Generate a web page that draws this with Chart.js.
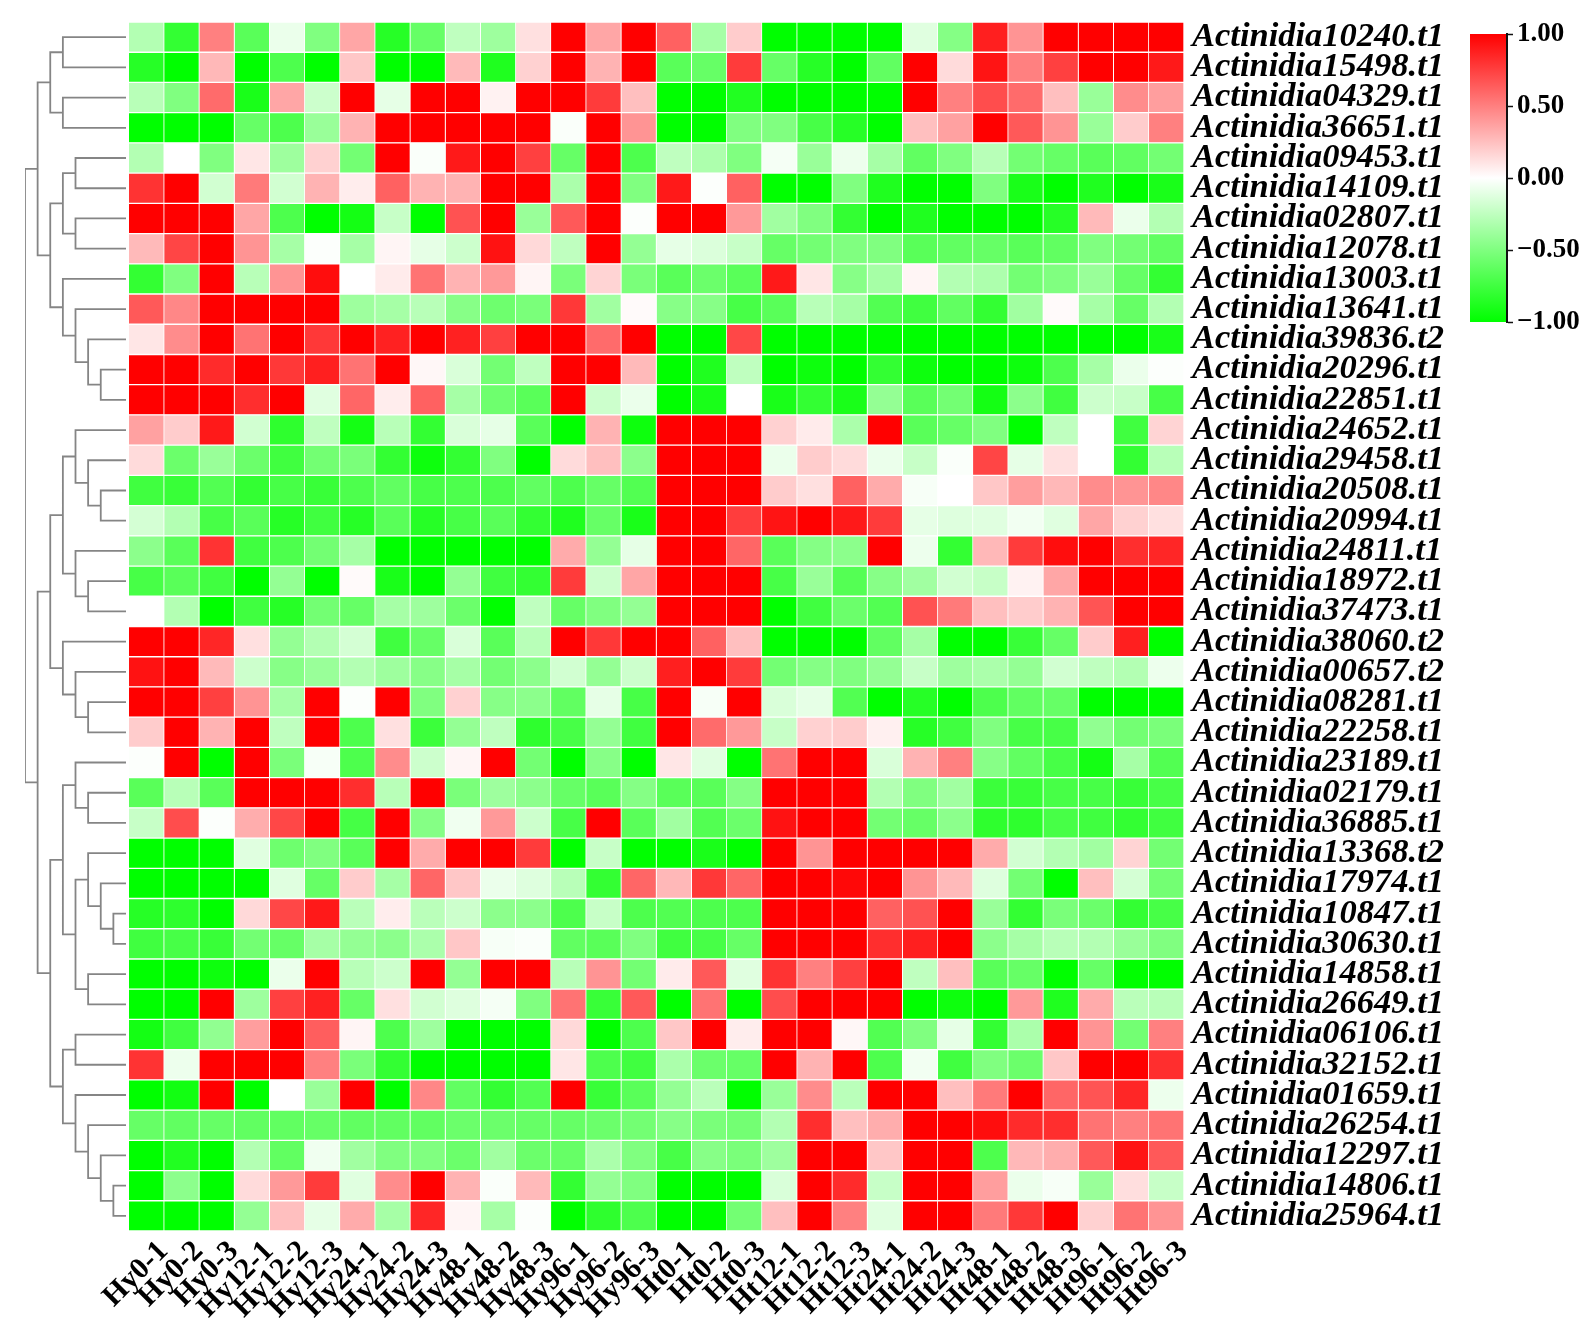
<!DOCTYPE html>
<html>
<head>
<meta charset="utf-8">
<script src="https://cdn.jsdelivr.net/npm/chart.js@4/dist/chart.umd.min.js"></script>
<style>
html,body{margin:0;padding:0;background:#fff;width:1591px;height:1335px;overflow:hidden}
canvas{position:absolute}
</style>
</head>
<body>
<canvas id="tree" style="left:0;top:0"></canvas>
<canvas id="heat" style="left:0;top:0"></canvas>
<canvas id="bar" style="left:1440px;top:0"></canvas>
<script>
const samples = ["Hy0-1","Hy0-2","Hy0-3","Hy12-1","Hy12-2","Hy12-3","Hy24-1","Hy24-2","Hy24-3","Hy48-1","Hy48-2","Hy48-3","Hy96-1","Hy96-2","Hy96-3","Ht0-1","Ht0-2","Ht0-3","Ht12-1","Ht12-2","Ht12-3","Ht24-1","Ht24-2","Ht24-3","Ht48-1","Ht48-2","Ht48-3","Ht96-1","Ht96-2","Ht96-3"];
const genes = ["Actinidia10240.t1","Actinidia15498.t1","Actinidia04329.t1","Actinidia36651.t1","Actinidia09453.t1","Actinidia14109.t1","Actinidia02807.t1","Actinidia12078.t1","Actinidia13003.t1","Actinidia13641.t1","Actinidia39836.t2","Actinidia20296.t1","Actinidia22851.t1","Actinidia24652.t1","Actinidia29458.t1","Actinidia20508.t1","Actinidia20994.t1","Actinidia24811.t1","Actinidia18972.t1","Actinidia37473.t1","Actinidia38060.t2","Actinidia00657.t2","Actinidia08281.t1","Actinidia22258.t1","Actinidia23189.t1","Actinidia02179.t1","Actinidia36885.t1","Actinidia13368.t2","Actinidia17974.t1","Actinidia10847.t1","Actinidia30630.t1","Actinidia14858.t1","Actinidia26649.t1","Actinidia06106.t1","Actinidia32152.t1","Actinidia01659.t1","Actinidia26254.t1","Actinidia12297.t1","Actinidia14806.t1","Actinidia25964.t1"];
const values = [
[-.3,-.8,.5,-.65,-.08,-.5,.35,-.85,-.6,-.25,-.38,.12,1,.35,1,.62,-.35,.2,-1,-1,-1,-1,-.12,-.48,.88,.42,1,1,1,1],
[-.85,-1,.28,-1,-.7,-1,.22,-1,-1,.27,-.88,.18,1,.3,1,-.65,-.6,.77,-.6,-.85,-1,-.62,1,.14,.92,.5,.75,1,1,.9],
[-.28,-.5,.58,-.9,.35,-.2,1,-.1,1,1,.05,1,1,.77,.25,-1,-1,-.87,-1,-1,-1,-1,1,.5,.7,.58,.25,-.4,.45,.38],
[-1,-1,-1,-.6,-.7,-.4,.3,1,1,1,1,1,-.02,1,.42,-1,-1,-.5,-.5,-.72,-.85,-1,.25,.37,1,.65,.42,-.4,.2,.5],
[-.3,0,-.5,.1,-.38,.18,-.55,1,-.02,.9,1,.75,-.6,1,-.7,-.25,-.32,-.5,-.04,-.4,-.07,-.35,-.62,-.5,-.28,-.55,-.6,-.65,-.62,-.55],
[.8,1,-.18,.52,-.18,.3,.07,.62,.3,.3,1,1,-.33,1,-.5,.9,-.01,.62,-1,-1,-.5,-.88,-1,-1,-.5,-.9,-1,-.88,-1,-.9],
[1,1,1,.35,-.7,-1,-.92,-.22,-1,.68,1,-.4,.65,1,-.01,1,1,.4,-.37,-.5,-.8,-1,-.88,-1,-1,-1,-.85,.27,-.08,-.3],
[.27,.73,1,.42,-.35,-.01,-.35,.04,-.1,-.2,.93,.15,-.25,1,-.42,-.1,-.14,-.22,-.6,-.55,-.5,-.5,-.65,-.62,-.6,-.65,-.62,-.5,-.55,-.62],
[-.8,-.5,1,-.28,.42,.95,0,.08,.55,.3,.4,.04,-.52,.17,-.52,-.65,-.58,-.65,.9,.1,-.47,-.35,.04,-.3,-.32,-.55,-.5,-.4,-.6,-.8],
[.65,.47,1,1,1,1,-.38,-.35,-.28,-.47,-.57,-.52,.78,-.37,.02,-.47,-.47,-.72,-.65,-.28,-.35,-.68,-.75,-.62,-.8,-.37,.02,-.35,-.6,-.3],
[.1,.45,1,.55,1,.78,1,.87,1,.87,.75,1,1,.58,1,-1,-1,.72,-1,-1,-1,-1,-1,-1,-1,-1,-1,-1,-1,-.9],
[1,1,.83,1,.78,.88,.55,1,.03,-.15,-.55,-.25,1,1,.27,-1,-.88,-.25,-1,-.95,-1,-.8,-.95,-1,-1,-.95,-.7,-.35,-.08,-.01],
[1,1,1,.82,1,-.12,.6,.07,.62,-.35,-.57,-.65,1,-.2,-.08,-1,-.9,0,-.9,-.8,-.9,-.42,-.65,-.55,-.92,-.45,-.75,-.2,-.22,-.72],
[.37,.2,.9,-.18,-.82,-.25,-.92,-.28,-.8,-.15,-.1,-.65,-1,.3,-.95,1,1,1,.18,.08,-.33,1,-.65,-.6,-.5,-1,-.25,0,-.75,.17],
[.14,-.58,-.4,-.58,-.75,-.55,-.52,-.8,-.95,-.8,-.5,-1,.14,.25,-.45,1,1,1,-.08,.2,.14,-.08,-.22,-.02,.73,-.1,.12,0,-.8,-.28],
[-.75,-.78,-.68,-.8,-.72,-.78,-.7,-.62,-.72,-.7,-.7,-.62,-.7,-.6,-.68,1,1,1,.2,.12,.62,.33,-.03,0,.22,.38,.28,.45,.42,.47],
[-.17,-.3,-.72,-.65,-.85,-.75,-.85,-.65,-.85,-.72,-.65,-.8,-.88,-.6,-.9,1,1,.76,.92,1,.9,.77,-.1,-.13,-.12,-.05,-.12,.35,.18,.12],
[-.45,-.65,.8,-.75,-.7,-.55,-.35,-1,-1,-1,-1,-1,.33,-.42,-.1,1,1,.6,-.65,-.48,-.45,1,-.07,-.8,.28,.77,.95,1,.82,.85],
[-.72,-.65,-.75,-1,-.42,-1,.02,-.9,-1,-.42,-.75,-.8,.77,-.2,.35,1,1,1,-.72,-.4,-.67,-.47,-.37,-.18,-.22,.05,.35,1,1,1],
[0,-.3,-1,-.75,-.85,-.55,-.6,-.35,-.38,-.58,-1,-.25,-.6,-.5,-.42,1,1,1,-1,-.75,-.58,-.68,.68,.52,.25,.2,.3,.67,1,1],
[1,1,.85,.12,-.42,-.3,-.17,-.75,-.6,-.15,-.65,-.28,1,.78,1,1,.62,.25,-1,-1,-1,-.62,-.35,-1,-1,-.78,-.6,.2,.88,-1],
[.93,1,.27,-.2,-.47,-.4,-.3,-.38,-.47,-.35,-.55,-.45,-.18,-.42,-.2,.88,1,.77,-.55,-.48,-.5,-.42,-.22,-.38,-.33,-.42,-.18,-.25,-.3,-.07],
[1,1,.75,.42,-.35,1,-.01,1,-.5,.18,-.47,-.45,-.62,-.1,-.72,1,-.03,1,-.15,-.1,-.68,-1,-.85,-1,-.7,-.62,-.6,-1,-1,-1],
[.2,1,.3,1,-.25,1,-.7,.12,-.77,-.42,-.25,-.82,-.72,-.42,-.75,1,.58,.4,-.22,.18,.2,.06,-.85,-.75,-.5,-.72,-.72,-.43,-.55,-.52],
[-.01,1,-1,1,-.52,-.03,-.7,.45,-.2,.04,1,-.55,-1,-.47,-1,.1,-.12,-1,.55,1,1,-.15,.3,.5,-.47,-.62,-.72,-.92,-.35,-.68],
[-.65,-.28,-.65,1,1,1,.82,-.28,1,-.52,-.38,-.45,-.6,-.65,-.48,-.65,-.65,-.48,1,1,1,-.3,-.5,-.37,-.77,-.78,-.72,-.72,-.78,-.72],
[-.22,.7,-.01,.32,.72,1,-.73,1,-.48,-.06,.4,-.2,-.72,1,-.65,-.37,-.68,-.58,.93,1,1,-.55,-.6,-.45,-.82,-.82,-.72,-.75,-.8,-.75],
[-1,-1,-1,-.12,-.57,-.5,-.65,1,.33,1,1,.77,-1,-.22,-1,-1,-.9,-1,1,.42,1,1,1,1,.33,-.18,-.3,-.37,.17,-.55],
[-1,-1,-1,-1,-.12,-.6,.2,-.35,.6,.22,-.08,-.13,-.28,-.8,.6,.28,.78,.6,1,1,.97,1,.42,.27,-.13,-.55,-1,.25,-.17,-.55],
[-.85,-.82,-1,.15,.72,.9,-.27,.07,-.27,-.2,-.45,-.45,-.7,-.22,-.7,-.68,-.7,-.7,1,1,1,.62,.68,1,-.4,-.8,-.52,-.58,-.8,-.72],
[-.75,-.72,-.78,-.55,-.6,-.35,-.42,-.45,-.33,.22,-.03,-.02,-.62,-.65,-.5,-.75,-.72,-.6,1,1,1,.82,.88,1,-.45,-.35,-.28,-.3,-.4,-.5],
[-1,-1,-.95,-1,-.08,1,-.28,-.2,1,-.42,1,1,-.28,.42,-.55,.08,.65,-.12,.8,.5,.75,1,-.25,.25,-.65,-.6,-1,-.6,-1,-1],
[-1,-1,1,-.38,.75,.87,-.6,.12,-.18,-.13,-.04,-.5,.55,-.78,.65,-1,.55,-1,.7,1,1,1,-1,-.95,-1,.4,-.88,.33,-.27,-.28],
[-.92,-.75,-.43,.38,1,.63,.04,-.7,-.38,-1,-1,-1,.15,-1,-.7,.22,1,.07,1,1,.03,-.68,-.5,-.1,-.8,-.33,1,.42,-.55,.5],
[.8,-.07,1,1,1,.5,-.52,-.8,-1,-1,-1,-1,.1,-.7,-.75,-.33,-.58,-.6,1,.3,1,-.7,-.05,-.75,-.5,-.58,.22,1,1,.82],
[-1,-.93,1,-1,0,-.4,1,-1,.47,-.62,-.8,-.68,1,-.78,-.65,-.42,-.27,-1,-.4,.45,-.27,1,1,.25,.52,1,.6,.67,.85,-.07],
[-.6,-.62,-.6,-.62,-.62,-.6,-.62,-.62,-.62,-.58,-.58,-.6,-.6,-.58,-.55,-.47,-.52,-.55,-.3,.82,.25,.32,1,1,.95,.83,.82,.55,.5,.55],
[-1,-.87,-1,-.3,-.62,-.06,-.37,-.5,-.5,-.58,-.37,-.58,-.6,-.33,-.5,-.72,-.47,-.52,-.38,1,1,.22,1,1,-.7,.28,.32,.65,.92,.65],
[-1,-.45,-1,.14,.4,.77,-.12,.45,1,.3,-.02,.27,-.8,-.42,-.5,-1,-1,-1,-.15,1,.83,-.22,1,1,.38,-.08,-.03,-.4,.13,-.22],
[-1,-1,-1,-.42,.25,-.1,.33,-.35,.85,.04,-.35,-.01,-1,-.82,-.7,-1,-1,-.55,.25,1,.5,-.12,1,1,.52,.78,1,.18,.55,.42]
];
// row clustering: nested pairs of 1-based row numbers
const rowTree = [
  [[[1,2],[3,4]],
   [[[5,6],[7,8]],[9,[10,[11,[12,13]]]]]],
  [[[[14,[15,[16,17]]],[18,[19,20]]],[21,[22,[23,24]]]],
   [[[25,[26,27]],[[28,[29,[30,31]]],[32,33]]],
    [[34,35],[36,[37,[38,[39,40]]]]]]]
];
const legendTicks = [-1,-0.5,0,0.5,1];
const legendRange = [[-1,1]];

const heatColor = v => {
  const k = Math.round(255*(1-Math.abs(v)));
  return v >= 0 ? `rgb(255,${k},${k})` : `rgb(${k},255,${k})`;
};
const SERIF = '"Liberation Serif","Times New Roman",serif';
const noOverhang = s => {s.paddingTop=0;s.paddingBottom=0;s.paddingLeft=0;s.paddingRight=0;};

function size(id,w,h){const c=document.getElementById(id);c.width=w;c.height=h;c.style.width=w+'px';c.style.height=h+'px';return c;}

/* heatmap: one stacked horizontal-bar series per sample, each cell one unit wide */
new Chart(size('heat',1591,1335),{
  type:'bar',
  data:{
    labels:genes,
    datasets:samples.map((s,c)=>({
      label:s,
      data:genes.map(()=>1),
      backgroundColor:ctx=>heatColor(values[ctx.dataIndex][c]),
      borderColor:'#fff',
      borderWidth:1,
      barPercentage:1,
      categoryPercentage:1
    }))
  },
  options:{
    indexAxis:'y',responsive:false,animation:false,
    layout:{padding:{left:129,top:22,right:0,bottom:0}},
    plugins:{legend:{display:false},tooltip:{enabled:false}},
    scales:{
      x:{type:'linear',stacked:true,min:0,max:samples.length,display:false},
      x2:{type:'category',axis:'x',position:'bottom',labels:samples,offset:true,
        grid:{display:false,drawTicks:false},border:{display:false},
        afterFit(s){s.height=104;noOverhang(s);},
        ticks:{autoSkip:false,minRotation:45,maxRotation:45,labelOffset:17,padding:3,color:'#000',
          font:{family:SERIF,size:30,weight:'bold'}}},
      y:{type:'category',stacked:true,position:'right',
        grid:{display:false,drawTicks:false},border:{display:false},
        afterFit(s){s.width=407;noOverhang(s);},
        ticks:{autoSkip:false,align:'center',crossAlign:'near',padding:8,color:'#000',
          font:{family:SERIF,size:34.5,weight:'bold',style:'italic'}}}
    }
  }
});

/* dendrogram: brackets computed from the tree, placed by the chart's scales */
const dendro = [];
function walk(node,depth){
  if(typeof node==='number') return {x:8,y:node-0.5};
  const a=walk(node[0],depth+1), b=walk(node[1],depth+1);
  dendro.push({x:a.x,y:a.y},{x:depth,y:a.y},{x:depth,y:b.y},{x:b.x,y:b.y},{x:NaN,y:NaN});
  return {x:depth,y:(a.y+b.y)/2};
}
walk(rowTree,0);
new Chart(size('tree',129,1335),{
  type:'scatter',
  data:{datasets:[{data:dendro,showLine:true,spanGaps:false,pointRadius:0,borderColor:'#858585',borderWidth:1.8,borderCapStyle:'square'}]},
  options:{
    responsive:false,animation:false,
    layout:{padding:{left:25,top:22,right:3,bottom:104}},
    plugins:{legend:{display:false},tooltip:{enabled:false}},
    scales:{
      x:{type:'linear',min:0,max:8,display:false},
      y:{type:'linear',min:0,max:genes.length,reverse:true,display:false}
    }
  }
});

/* colour key */
new Chart(size('bar',151,360),{
  type:'bar',
  data:{labels:['key'],datasets:[{
    data:legendRange,
    barPercentage:1,categoryPercentage:1,
    backgroundColor(ctx){
      const a=ctx.chart.chartArea; if(!a) return '#fff';
      const sc=ctx.chart.scales.y;
      const g=ctx.chart.ctx.createLinearGradient(0,sc.getPixelForValue(1),0,sc.getPixelForValue(-1));
      g.addColorStop(0,heatColor(1));g.addColorStop(0.5,heatColor(0));g.addColorStop(1,heatColor(-1));
      return g;
    }
  }]},
  options:{
    responsive:false,animation:false,
    layout:{padding:{left:30,top:34,right:0,bottom:38}},
    plugins:{legend:{display:false},tooltip:{enabled:false}},
    scales:{
      x:{display:false},
      y:{position:'right',min:-1,max:1,
        afterBuildTicks(s){s.ticks=legendTicks.map(v=>({value:v}));},
        afterFit(s){s.width=84;noOverhang(s);},
        grid:{display:true,z:1,drawOnChartArea:false,drawTicks:true,tickLength:6,tickColor:'#111',tickWidth:1.5},
        border:{display:true,z:1,color:'#111',width:2},
        ticks:{padding:4,color:'#000',
          callback:v=>(v<0?'\u2212':'')+Math.abs(v).toFixed(2),
          font:{family:SERIF,size:27,weight:'bold'}}}
    }
  }
});
</script>
</body>
</html>
